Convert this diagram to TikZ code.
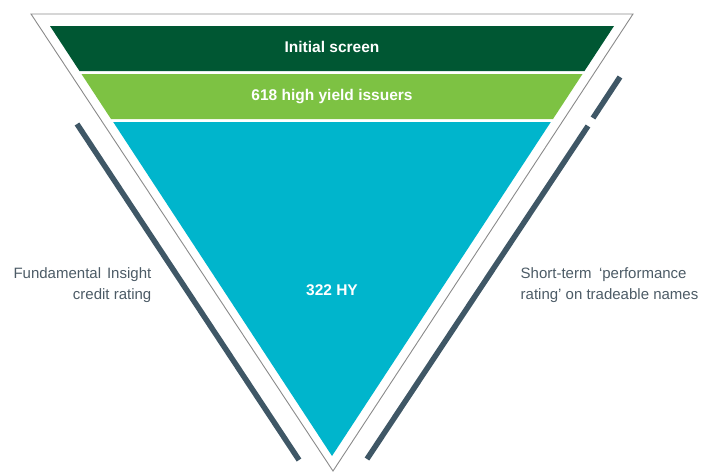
\documentclass[tikz,border=0pt]{standalone}
\usepackage{fontspec}
\setmainfont{Liberation Sans}
\definecolor{dkgreen}{HTML}{005733}
\definecolor{ltgreen}{HTML}{7DC243}
\definecolor{cyanfill}{HTML}{00B5CC}
\definecolor{barcol}{HTML}{3F5766}
\definecolor{sidetext}{HTML}{4C5B66}
\definecolor{outline}{HTML}{8A8A8A}
\begin{document}
\begin{tikzpicture}[x=1pt,y=-1pt,
  bandlabel/.style={text=white,font=\fontsize{15.5}{18}\selectfont\bfseries,inner sep=0pt},
  sidelabel/.style={text=sidetext,font=\fontsize{15}{21.5}\selectfont,inner sep=0pt},
  bar/.style={draw=barcol,line width=5.5pt},
  funnel/.style={draw=outline,line width=0.9pt}]
\useasboundingbox (0,0) rectangle (706,472);
% outer outline
\draw[funnel] (31,14) -- (633,14) -- (333,471) -- cycle;
% bands
\fill[dkgreen] (50,26) -- (614,26) -- (584.5,71) -- (79.5,71) -- cycle;
\fill[ltgreen] (81.5,74) -- (582.5,74) -- (553,119) -- (111,119) -- cycle;
\fill[cyanfill] (113.2,122) -- (550.8,122) -- (332,456) -- cycle;
% band labels
\node[bandlabel] (initial) at (332,47) {Initial screen};
\node[bandlabel] (hy618) at (332,96.5) {618 high yield issuers};
\node[bandlabel] (hy322) at (332,290) {322 HY};
% bars
\coordinate (lb1) at (77,124);
\coordinate (lb2) at (299,460);
\coordinate (rb1) at (620,77);
\coordinate (rb2) at (593,118);
\coordinate (rb3) at (588,126);
\coordinate (rb4) at (367,459);
\draw[bar] (lb1) -- (lb2);
\draw[bar] (rb1) -- (rb2);
\draw[bar] (rb3) -- (rb4);
% side labels
\node[sidelabel,anchor=east,align=right] (fund) at (151.5,285) {Fundamental\hspace{0.4em}Insight\\credit rating};
\node[sidelabel,anchor=west,align=left] (short) at (520.5,285) {Short-term\hspace{0.5em}‘performance\\rating’ on tradeable names};
\end{tikzpicture}
\end{document}
